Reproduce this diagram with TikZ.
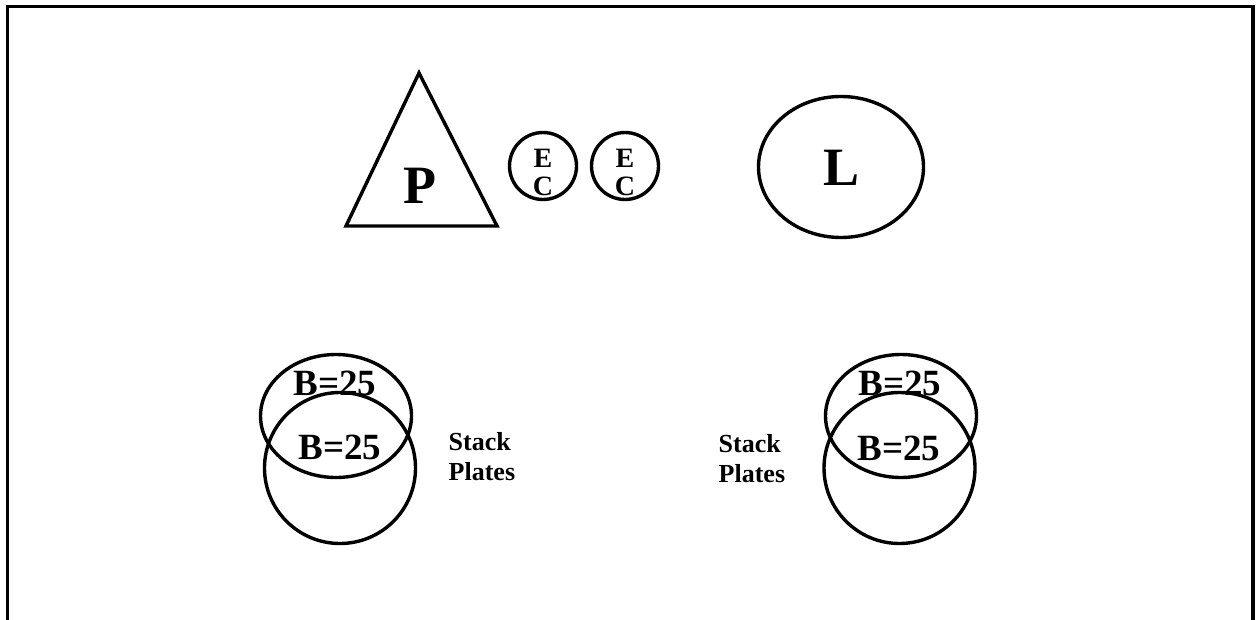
\documentclass[tikz,border=0pt]{standalone}
\usepackage{fontspec}
\setmainfont{Liberation Serif}
\usetikzlibrary{positioning}

\begin{document}
\begin{tikzpicture}[
  x=1pt,y=-1pt,
  line width=3.4pt,
  big/.style={font=\fontsize{54}{54}\selectfont\bfseries,inner sep=0pt},
  ring/.style={draw,circle,minimum size=67pt,inner sep=0pt},
  ec/.style={font=\fontsize{28}{28}\selectfont\bfseries,align=center,inner sep=0pt},
  plate/.style={font=\fontsize{37}{37}\selectfont\bfseries,inner sep=0pt},
  note/.style={font=\fontsize{26}{30}\selectfont\bfseries,align=left,inner sep=0pt,anchor=west},
]
  \useasboundingbox (0,0) rectangle (1257,620);
  % frame, open at the bottom
  \draw (7.5,620) -- (7.5,6.5) -- (1253,6.5) -- (1253,620);

  % top row
  \coordinate (Ptop) at (419,73);
  \coordinate (Pleft) at (346,226);
  \coordinate (Pright) at (497,226);
  \draw (Ptop) -- (Pright) -- (Pleft) -- cycle;
  \node[big] (P) at (420,186) {P};
  \node[ring] (ec1) at (543,166) {};
  \node[ec,yshift=-6pt] (ectext1) at (ec1.center) {E\\C};
  \node[ring] (ec2) at (625,166) {};
  \node[ec,yshift=-6pt] (ectext2) at (ec2.center) {E\\C};
  \draw (841,167) ellipse [x radius=82.5,y radius=70.5];
  \node[big] (L) at (841,168) {L};

  % stacked plates, left
  \draw (336,416) ellipse [x radius=75.5,y radius=61.5];
  \draw (340,468) circle [radius=75.5];
  \node[plate] (b1) at (335,383) {B=25};
  \node[plate] (b2) at (340,447) {B=25};
  \node[note] (stack1) at (447,457) {Stack\\Plates};

  % stacked plates, right
  \draw (901,416) ellipse [x radius=75.5,y radius=61.5];
  \draw (899.5,468) circle [radius=75.5];
  \node[plate] (b3) at (900,383) {B=25};
  \node[plate] (b4) at (899,448) {B=25};
  \node[note] (stack2) at (717,459) {Stack\\Plates};
\end{tikzpicture}
\end{document}
